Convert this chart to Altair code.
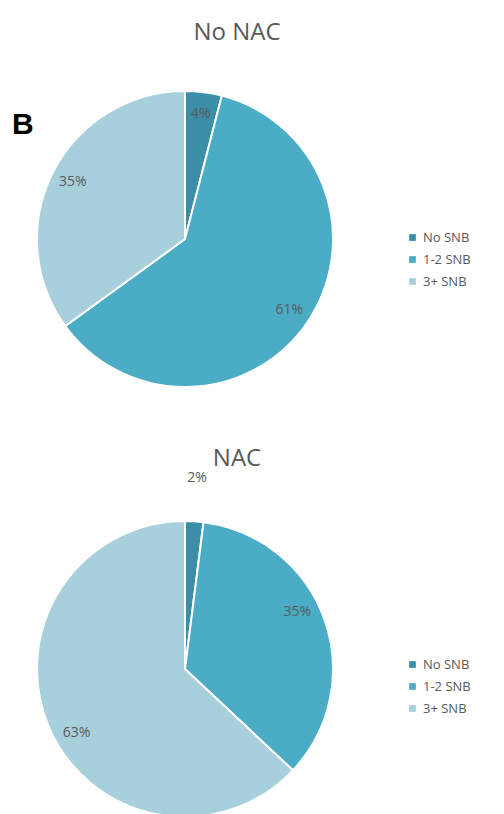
import altair as alt
import pandas as pd

categories = ["No SNB", "1-2 SNB", "3+ SNB"]
no_nac_values = [4, 61, 35]
nac_values = [2, 35, 63]
panel_titles = ["No NAC", "NAC"]
colors = ["#3a8ea6", "#4bacc6", "#a8d0dc"]

TEXT_COLOR = "#595959"


def panel(values, title, cy, legend_y, height, title_offset, show_b=False):
    df = pd.DataFrame({"category": categories, "value": values, "idx": list(range(len(categories)))})
    df["label"] = [f"{v}%" for v in values]
    base = alt.Chart(df).encode(
        theta=alt.Theta("value:Q", stack=True, scale=alt.Scale(domain=[0, 100])),
        order=alt.Order("idx:Q"),
        x=alt.value(177),
        y=alt.value(cy),
    )
    arcs = base.mark_arc(outerRadius=148, stroke="white", strokeWidth=2).encode(
        color=alt.Color(
            "category:N",
            scale=alt.Scale(domain=categories, range=colors),
            sort=categories,
            legend=alt.Legend(
                title=None,
                orient="none",
                legendX=398,
                legendY=legend_y,
                symbolType="square",
                symbolSize=45,
                symbolStrokeWidth=0,
                labelFontSize=13,
                labelColor=TEXT_COLOR,
                labelFont="Open Sans",
                rowPadding=8,
            ),
        )
    )
    labels = base.transform_calculate(
        lr="datum.value < 3 ? 191 : 126"
    ).mark_text(fontSize=14, font="Open Sans", color=TEXT_COLOR).encode(
        text="label:N",
        radius=alt.Radius("lr:Q", scale=None),
    )
    layers = [arcs, labels]
    if show_b:
        bdf = pd.DataFrame({"t": ["B"]})
        b = alt.Chart(bdf).mark_text(
            fontSize=30, fontWeight="bold", font="Liberation Sans", color="black", align="left", baseline="middle"
        ).encode(text="t:N", x=alt.value(4), y=alt.value(cy - 114))
        layers.append(b)
    return alt.layer(*layers).properties(
        width=488,
        height=height,
        title=alt.TitleParams(
            title, fontSize=24, font="Open Sans", fontWeight="normal", color=TEXT_COLOR, dx=-15,
            offset=title_offset
        ),
    )


top = panel(no_nac_values, panel_titles[0], 189, 181, 380, 5, show_b=True)
bottom = panel(nac_values, panel_titles[1], 182, 171, 340, 0)

chart = alt.vconcat(top, bottom, spacing=17).resolve_legend(color="independent").properties(
    padding={"top": 13, "left": 0, "right": 0, "bottom": 0}
).configure_view(stroke=None).configure_title(anchor="middle")

chart.save("out.html", embed_options={"renderer": "svg", "actions": False})
